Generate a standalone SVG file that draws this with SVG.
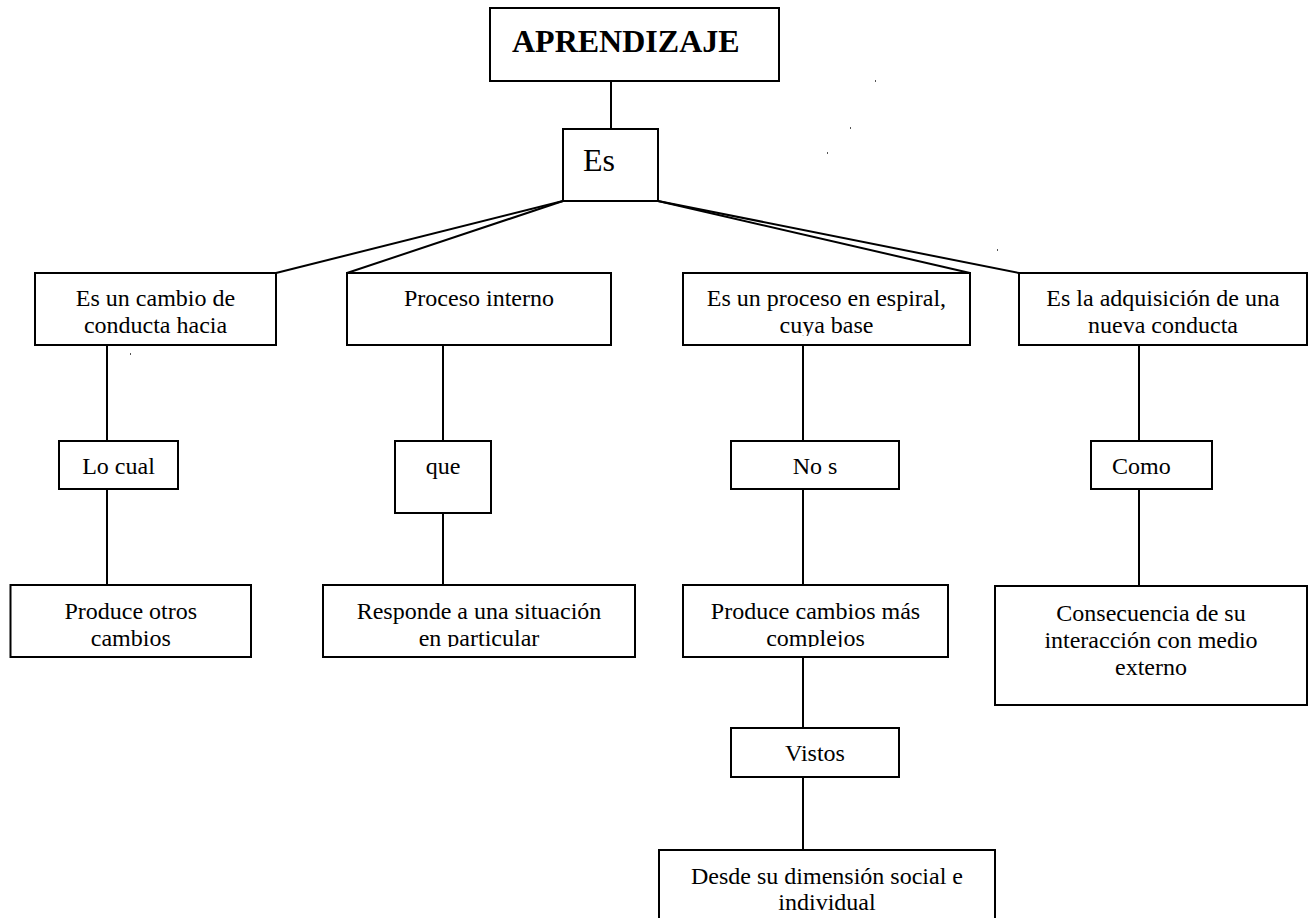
<svg xmlns="http://www.w3.org/2000/svg" width="1313" height="918" viewBox="0 0 1313 918">
<style>
.box{fill:#fff;stroke:#000;stroke-width:2}
.ln{stroke:#000;stroke-width:2;fill:none}
.t{font-family:"Liberation Serif","Times New Roman",serif;font-size:24px;fill:#000;text-anchor:middle}
.dot{fill:#555}
</style>
<defs>
<clipPath id="c3"><rect x="684" y="274" width="285" height="62"/></clipPath>
<clipPath id="cpo"><rect x="11" y="586" width="239" height="61"/></clipPath>
<clipPath id="cre"><rect x="324" y="586" width="310" height="61"/></clipPath>
<clipPath id="cpc"><rect x="684" y="586" width="263" height="61"/></clipPath>
</defs>
<rect width="1313" height="918" fill="#fff"/>
<g id="connectors">
<line class="ln" x1="611" y1="81" x2="611" y2="129"/>
<line class="ln" x1="563" y1="201" x2="276" y2="273"/>
<line class="ln" x1="563" y1="201" x2="347" y2="273"/>
<line class="ln" x1="658" y1="201" x2="970" y2="273"/>
<line class="ln" x1="658" y1="201" x2="1019" y2="273"/>
<line class="ln" x1="107" y1="345" x2="107" y2="441"/>
<line class="ln" x1="107" y1="489" x2="107" y2="585"/>
<line class="ln" x1="443" y1="345" x2="443" y2="441"/>
<line class="ln" x1="443" y1="513" x2="443" y2="585"/>
<line class="ln" x1="803" y1="345" x2="803" y2="441"/>
<line class="ln" x1="803" y1="489" x2="803" y2="585"/>
<line class="ln" x1="803" y1="657" x2="803" y2="728"/>
<line class="ln" x1="803" y1="777" x2="803" y2="850"/>
<line class="ln" x1="1139" y1="345" x2="1139" y2="441"/>
<line class="ln" x1="1139" y1="489" x2="1139" y2="586"/>
</g>
<g id="n-aprendizaje">
<rect class="box" x="490" y="8" width="289" height="73"/>
<text x="512" y="52" style="font-family:'Liberation Serif','Times New Roman',serif;font-size:32px;font-weight:bold">APRENDIZAJE</text>
</g>
<g id="n-es">
<rect class="box" x="563" y="129" width="95" height="72"/>
<text x="583" y="171" style="font-family:'Liberation Serif','Times New Roman',serif;font-size:32px">Es</text>
</g>
<g id="n-cambio-conducta">
<rect class="box" x="35" y="273" width="241" height="72"/>
<text class="t" x="155.5" y="306">Es un cambio de</text>
<text class="t" x="155.5" y="333">conducta hacia</text>
</g>
<g id="n-proceso-interno">
<rect class="box" x="347" y="273" width="264" height="72"/>
<text class="t" x="479" y="306">Proceso interno</text>
</g>
<g id="n-espiral">
<rect class="box" x="683" y="273" width="287" height="72"/>
<g clip-path="url(#c3)">
<text class="t" x="826.5" y="306">Es un proceso en espiral,</text>
<text class="t" x="826.5" y="333">cuya base</text>
</g>
</g>
<g id="n-adquisicion">
<rect class="box" x="1019" y="273" width="288" height="72"/>
<text class="t" x="1163" y="306">Es la adquisición de una</text>
<text class="t" x="1163" y="333">nueva conducta</text>
</g>
<g id="n-locual">
<rect class="box" x="59" y="441" width="119" height="48"/>
<text class="t" x="118.5" y="474">Lo cual</text>
</g>
<g id="n-que">
<rect class="box" x="395" y="441" width="96" height="72"/>
<text class="t" x="443" y="474">que</text>
</g>
<g id="n-nos">
<rect class="box" x="731" y="441" width="168" height="48"/>
<text class="t" x="815" y="474">No s</text>
</g>
<g id="n-como">
<rect class="box" x="1091" y="441" width="121" height="48"/>
<text class="t" x="1112" y="474" style="text-anchor:start">Como</text>
</g>
<g id="n-produce-otros">
<rect class="box" x="10.5" y="585" width="240.5" height="72"/>
<g clip-path="url(#cpo)">
<text class="t" x="130.75" y="619">Produce otros</text>
<text class="t" x="130.75" y="646">cambios</text>
</g>
</g>
<g id="n-responde">
<rect class="box" x="323" y="585" width="312" height="72"/>
<g clip-path="url(#cre)">
<text class="t" x="479" y="619">Responde a una situación</text>
<text class="t" x="479" y="646">en particular</text>
</g>
</g>
<g id="n-produce-cambios">
<rect class="box" x="683" y="585" width="265" height="72"/>
<g clip-path="url(#cpc)">
<text class="t" x="815.5" y="619">Produce cambios más</text>
<text class="t" x="815.5" y="646">complejos</text>
</g>
</g>
<g id="n-consecuencia">
<rect class="box" x="995" y="586" width="312" height="119"/>
<text class="t" x="1151" y="621">Consecuencia de su</text>
<text class="t" x="1151" y="648">interacción con medio</text>
<text class="t" x="1151" y="675">externo</text>
</g>
<g id="n-vistos">
<rect class="box" x="731" y="728" width="168" height="49"/>
<text class="t" x="815" y="761">Vistos</text>
</g>
<g id="n-desde">
<rect class="box" x="659" y="850" width="336" height="80"/>
<text class="t" x="827" y="884">Desde su dimensión social e</text>
<text class="t" x="827" y="910">individual</text>
</g>
<g id="marks">
<rect class="dot" x="875" y="80" width="1" height="2"/>
<rect class="dot" x="850" y="127" width="1" height="2"/>
<rect class="dot" x="827" y="152" width="1" height="2"/>
<rect class="dot" x="997" y="249" width="1" height="2"/>
<rect class="dot" x="130" y="353" width="1" height="2"/>
</g>
</svg>
